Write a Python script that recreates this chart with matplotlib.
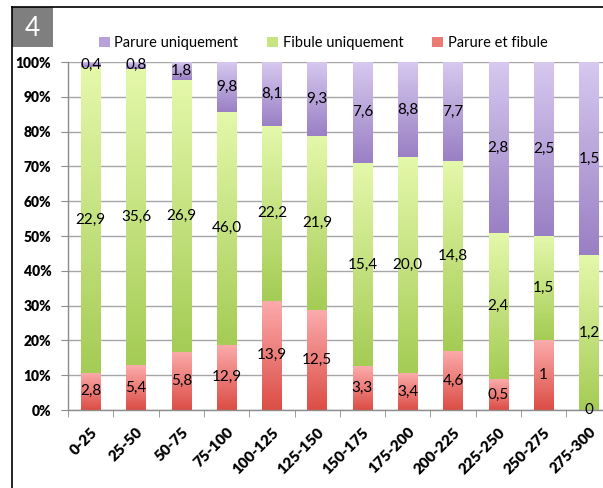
import numpy as np
import matplotlib
matplotlib.use("Agg")
import matplotlib.pyplot as plt
from matplotlib.colors import LinearSegmentedColormap
from matplotlib.patches import Patch, Rectangle
from matplotlib.lines import Line2D
import matplotlib.transforms as mtransforms

categories = ['0-25', '25-50', '50-75', '75-100', '100-125', '125-150',
              '150-175', '175-200', '200-225', '225-250', '250-275', '275-300']
# labels as printed on the chart (comma decimals); heights are shares of the total
lab_both = ['2,8', '5,4', '5,8', '12,9', '13,9', '12,5', '3,3', '3,4', '4,6', '0,5', '1', '0']
lab_fibule = ['22,9', '35,6', '26,9', '46,0', '22,2', '21,9', '15,4', '20,0', '14,8', '2,4', '1,5', '1,2']
lab_parure = ['0,4', '0,8', '1,8', '9,8', '8,1', '9,3', '7,6', '8,8', '7,7', '2,8', '2,5', '1,5']

both = np.array([float(s.replace(',', '.')) for s in lab_both])
fibule = np.array([float(s.replace(',', '.')) for s in lab_fibule])
parure = np.array([float(s.replace(',', '.')) for s in lab_parure])
total = both + fibule + parure
p_both = both / total
p_fib = fibule / total
p_par = parure / total

plt.rcParams['font.family'] = ['Lato', 'DejaVu Sans']

fig = plt.figure(figsize=(6.03, 4.88), dpi=100)
ax = fig.add_axes([0.1128, 0.1598, 0.9015, 0.7131])

x = np.arange(len(categories))
w = 0.43

# (top colour, bottom colour) for the gradient of each series
cols = {
    'par': ('#d6c8ef', '#9a80c4'),
    'fib': ('#e4f8aa', '#a5cc55'),
    'both': ('#fbabab', '#dc4e46'),
}


def gradient_bars(bars, ctop, cbot):
    cmap = LinearSegmentedColormap.from_list('g', [cbot, ctop])
    for b in bars:
        x0, y0 = b.get_xy()
        bw, bh = b.get_width(), b.get_height()
        if bh <= 0:
            continue
        ax.imshow(np.linspace(0, 1, 64).reshape(-1, 1), extent=[x0, x0 + bw, y0, y0 + bh],
                  origin='lower', cmap=cmap, aspect='auto', zorder=2, interpolation='bilinear')
        b.set_visible(False)


b1 = ax.bar(x, p_both, w, color=cols['both'][1], zorder=2)
b2 = ax.bar(x, p_fib, w, bottom=p_both, color=cols['fib'][1], zorder=2)
b3 = ax.bar(x, p_par, w, bottom=p_both + p_fib, color=cols['par'][1], zorder=2)
gradient_bars(b1, *cols['both'])
gradient_bars(b2, *cols['fib'])
gradient_bars(b3, *cols['par'])

for i in range(len(categories)):
    ax.text(x[i], p_both[i] / 2, lab_both[i], ha='center', va='center', fontsize=11, zorder=4)
    ax.text(x[i], p_both[i] + p_fib[i] / 2, lab_fibule[i], ha='center', va='center', fontsize=11, zorder=4)
    ax.text(x[i], p_both[i] + p_fib[i] + p_par[i] / 2, lab_parure[i], ha='center', va='center',
            fontsize=11, zorder=4)

ax.set_xlim(-0.5, len(categories) - 0.5)
ax.set_ylim(0, 1)
ax.set_yticks(np.arange(0, 1.01, 0.1))
ax.set_yticklabels(['%d%%' % v for v in range(0, 101, 10)], fontweight='heavy', fontsize=10)
ax.yaxis.grid(True, color='#a6a6a6', linewidth=1, zorder=0)
ax.set_axisbelow(True)

ax.set_xticks(x)
ax.set_xticklabels(categories, rotation=45, ha='right', va='top', rotation_mode='anchor',
                   fontweight='heavy', fontsize=11)
shift = mtransforms.ScaledTranslation(6 / 100, 0, fig.dpi_scale_trans)
for lbl in ax.get_xticklabels():
    lbl.set_transform(lbl.get_transform() + shift)
ax.set_xticks(np.arange(-0.5, len(categories), 1), minor=True)
ax.tick_params(axis='x', which='major', length=0, pad=11)
ax.tick_params(axis='x', which='minor', length=5, color='#8c8c8c', direction='out')
ax.tick_params(axis='y', length=5, color='#8c8c8c', pad=7)

for s in ['top', 'right']:
    ax.spines[s].set_visible(False)
for s in ['left', 'bottom']:
    ax.spines[s].set_color('#8c8c8c')
    ax.spines[s].set_linewidth(1)

handles = [Patch(facecolor='#b6a1da', label='Parure uniquement'),
           Patch(facecolor='#c6e580', label='Fibule uniquement'),
           Patch(facecolor='#ec7b76', label='Parure et fibule')]
fig.legend(handles=handles, loc='center', bbox_to_anchor=(0.536, 0.912), ncol=3, frameon=False,
           fontsize=10.5, handlelength=0.75, handleheight=0.75, handletextpad=0.3, columnspacing=2.0)

# outer frame and the "4" tag
fig.add_artist(Line2D([12 / 603, 1.0], [1 - 7 / 488, 1 - 7 / 488], color='black', linewidth=1.2))
fig.add_artist(Line2D([12 / 603, 12 / 603], [0, 1 - 7 / 488], color='black', linewidth=1.2))
fig.add_artist(Rectangle((12 / 603, 1 - 47 / 488), 41 / 603, 40 / 488, transform=fig.transFigure,
                         facecolor='#7f7f7f', edgecolor='none'))
fig.text(32.5 / 603, 1 - 28 / 488, '4', color='white', fontsize=19, fontweight='normal',
         ha='center', va='center')

fig.savefig('out.png', dpi=100)
